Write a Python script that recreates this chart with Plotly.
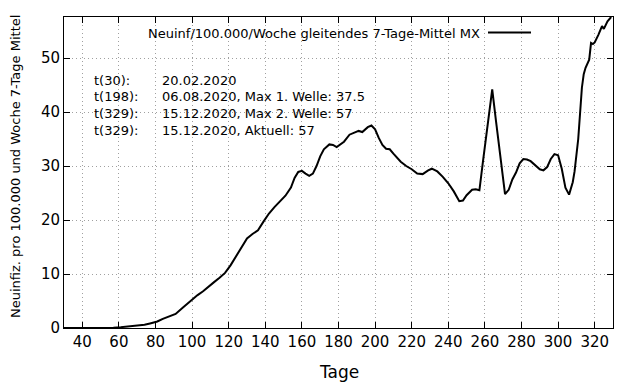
import plotly.graph_objects as go

# ---- data ----
days = [30, 40, 50, 53, 57, 61, 65, 70, 74, 77, 81, 84, 88, 91, 95, 99, 103, 106, 109,
        112, 115, 118, 121, 124, 127, 130, 133, 136, 139, 142, 145, 148, 151, 154, 156,
        158, 160, 162, 164, 166, 168, 170, 172, 175, 177, 179, 181, 183, 186, 189, 191,
        193, 196, 198, 200, 202, 204, 206, 208, 210, 212, 214, 217, 220, 223, 226, 229,
        231, 234, 237, 240, 243, 246, 248, 250, 253, 255, 257, 259, 261, 263, 264, 266,
        268, 270, 271, 273, 275, 277, 279, 281, 283, 285, 288, 290, 292, 294, 296, 298,
        300, 302, 304, 306, 308, 309, 311, 313, 314, 315, 317, 318, 319, 320, 322, 324,
        325, 327, 329]
values = [0, 0, 0, 0, 0.05, 0.15, 0.25, 0.4, 0.6, 0.85, 1.2, 1.7, 2.2, 2.6, 3.8, 5.0,
          6.1, 6.8, 7.7, 8.5, 9.3, 10.2, 11.6, 13.3, 15.0, 16.6, 17.4, 18.1, 19.7, 21.2,
          22.4, 23.4, 24.5, 26.0, 27.8, 28.9, 29.1, 28.6, 28.2, 28.6, 30.0, 31.8, 33.1,
          34.0, 33.9, 33.5, 34.0, 34.5, 35.8, 36.2, 36.5, 36.3, 37.2, 37.5, 36.8, 35.2,
          33.9, 33.2, 33.1, 32.3, 31.5, 30.8, 30.0, 29.4, 28.6, 28.5, 29.2, 29.5, 29.0,
          28.0, 26.8, 25.3, 23.5, 23.6, 24.6, 25.6, 25.7, 25.5, 31.0, 36.5, 42.0, 44.2,
          38.5, 33.0, 27.0, 24.8, 25.6, 27.5, 28.8, 30.5, 31.3, 31.2, 30.9, 30.0, 29.4,
          29.2, 29.8, 31.3, 32.2, 32.0, 29.5, 26.0, 24.7, 27.0, 29.0, 35.0, 44.5, 47.0,
          48.2, 49.7, 52.8, 52.6, 52.9, 54.3, 55.9, 55.4, 56.8, 57.6]

series_name = "Neuinf/100.000/Woche gleitendes 7-Tage-Mittel MX"
x_ticks = list(range(40, 321, 20))
y_ticks = [0, 10, 20, 30, 40, 50]
info_labels = ["t(30):", "t(198):", "t(329):", "t(329):"]
info_texts = ["20.02.2020", "06.08.2020, Max 1. Welle: 37.5",
              "15.12.2020, Max 2. Welle: 57", "15.12.2020, Aktuell: 57"]
x_title = "Tage"
y_title = "Neuinfiz. pro 100.000 und Woche 7-Tage Mittel"

FONT = "DejaVu Sans"
OFF = 8  # page body margin offset
W, H = 640 - OFF, 384 - OFF
L, T = 64 - OFF, 17 - OFF
R = W - (613 - OFF)
B = H - (328 - OFF)
pw, ph = W - L - R, H - T - B

def px_x(p):  # reference pixel -> paper
    return (p - OFF - L) / pw

def px_y(p):
    return (H - B - (p - OFF)) / ph

fig = go.Figure()
fig.add_trace(go.Scatter(x=days, y=values, mode="lines",
                         line=dict(color="black", width=2),
                         name=series_name, showlegend=False))

axis_common = dict(showline=True, linecolor="black", linewidth=1, mirror="ticks",
                   ticks="inside", ticklen=6, tickcolor="black",
                   showgrid=True, gridcolor="#a0a0a0", griddash="1px,3px", gridwidth=1,
                   zeroline=False, tickfont=dict(family=FONT, size=15, color="black"))

fig.update_xaxes(range=[30, 330], tickvals=x_ticks, **axis_common)
fig.update_yaxes(range=[0, 57.6], tickvals=y_ticks, **axis_common)

TXT = 13
ann = []
for i, (lab, txt) in enumerate(zip(info_labels, info_texts)):
    yy = px_y(80 + i * 16.7)
    ann.append(dict(x=px_x(91.5), y=yy, xref="paper", yref="paper", text=lab,
                    showarrow=False, xanchor="left", yanchor="middle",
                    font=dict(family=FONT, size=TXT, color="black")))
    ann.append(dict(x=px_x(160), y=yy, xref="paper", yref="paper", text=txt,
                    showarrow=False, xanchor="left", yanchor="middle",
                    font=dict(family=FONT, size=TXT, color="black")))

# legend (gnuplot style key)
ann.append(dict(x=px_x(482), y=px_y(33), xref="paper", yref="paper", text=series_name,
                showarrow=False, xanchor="right", yanchor="middle",
                font=dict(family=FONT, size=TXT, color="black")))
fig.add_shape(type="line", xref="paper", yref="paper",
              x0=px_x(488), x1=px_x(531), y0=px_y(32.5), y1=px_y(32.5),
              line=dict(color="black", width=2))

# axis titles
ann.append(dict(x=0.5, y=px_y(372), xref="paper", yref="paper", text=x_title,
                showarrow=False, xanchor="center", yanchor="middle",
                font=dict(family=FONT, size=17, color="black")))
ann.append(dict(x=px_x(15), y=px_y(167), xref="paper", yref="paper", text=y_title,
                showarrow=False, xanchor="center", yanchor="middle", textangle=-90,
                font=dict(family=FONT, size=TXT, color="black")))

fig.update_layout(width=W, height=H, margin=dict(l=L, r=R, t=T, b=B),
                  paper_bgcolor="white", plot_bgcolor="white",
                  annotations=ann, showlegend=False,
                  font=dict(family=FONT, color="black"))

fig.write_html("out.html")
